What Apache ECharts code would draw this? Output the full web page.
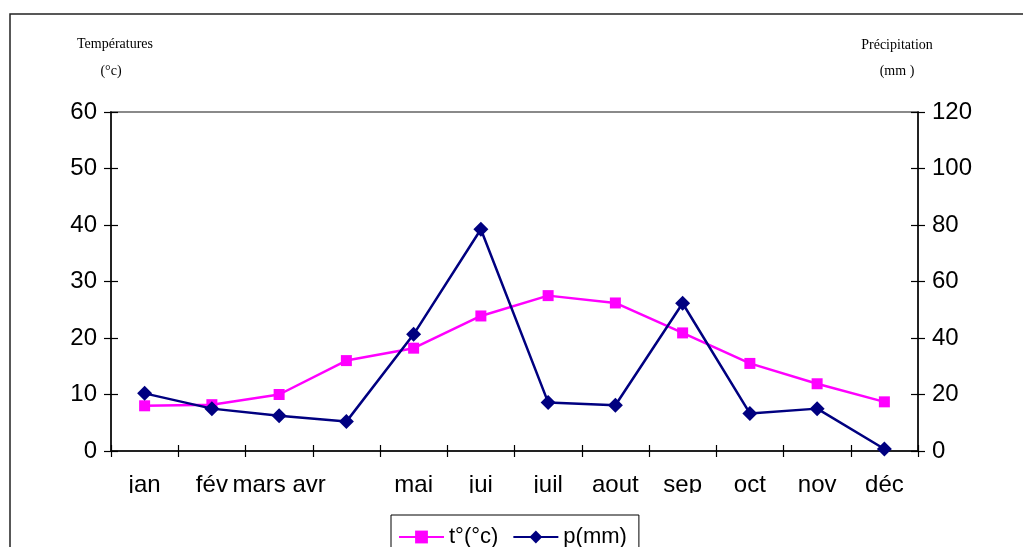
<!DOCTYPE html>
<html>
<head>
<meta charset="utf-8">
<style>
  html, body { margin: 0; padding: 0; background: #ffffff; }
  #chart { width: 1023px; height: 547px; }
</style>
<script src="https://cdn.jsdelivr.net/npm/echarts@6/dist/echarts.min.js"></script>
</head>
<body>
<div id="chart"></div>
<script>
// Monthly climate data
const months = ['jan', 'fév', 'mars avr', '', 'mai', 'jui', 'juil', 'aout', 'sep', 'oct', 'nov', 'déc'];
const temperature = [8, 8.2, 10, 16, 18.2, 23.9, 27.5, 26.2, 20.9, 15.5, 11.9, 8.7];   // °C
const precipitation = [20.4, 15, 12.5, 10.4, 41.3, 78.5, 17.2, 16.2, 52.3, 13.3, 15, 0.7]; // mm
const tempTicks = { min: 0, max: 60, interval: 10 };
const precipTicks = { min: 0, max: 120, interval: 20 };

const FONT = '"Liberation Sans", Arial, sans-serif';
const SERIF = '"Liberation Serif", "Times New Roman", serif';
const AXIS_LINE = { show: true, lineStyle: { color: '#000', width: 1.5 } };

const chart = echarts.init(document.getElementById('chart'), null, { renderer: 'canvas' });

// Each axis is doubled so the ticks cross the axis line (one copy outward, one inward).
function valueAxis(ticks, position, inner) {
  return {
    type: 'value',
    position: position,
    min: ticks.min, max: ticks.max, interval: ticks.interval,
    axisLine: inner ? { show: false } : AXIS_LINE,
    axisTick: { show: true, inside: inner, length: 7, lineStyle: { color: '#000', width: 1.2 } },
    axisLabel: inner ? { show: false } : { show: true, color: '#000', fontSize: 24, fontFamily: FONT, margin: 14 },
    splitLine: { show: false }
  };
}
function categoryAxis(inner) {
  return {
    type: 'category',
    position: 'bottom',
    data: months,
    boundaryGap: true,
    axisLine: inner ? { show: false } : AXIS_LINE,
    axisTick: { show: true, inside: inner, length: 6, interval: 0, lineStyle: { color: '#000', width: 1.2 } },
    axisLabel: inner ? { show: false } : { show: true, interval: 0, color: '#000', fontSize: 24, fontFamily: FONT, margin: 22 },
    splitLine: { show: false }
  };
}

chart.setOption({
  animation: false,
  backgroundColor: '#ffffff',
  grid: {
    left: 111, right: 105, top: 112, bottom: 96,
    show: true, borderColor: '#8a8a8a', borderWidth: 2, backgroundColor: 'transparent'
  },
  xAxis: [categoryAxis(false), categoryAxis(true)],
  yAxis: [
    valueAxis(tempTicks, 'left', false),
    valueAxis(precipTicks, 'right', false),
    valueAxis(tempTicks, 'left', true),
    valueAxis(precipTicks, 'right', true)
  ],
  legend: {
    left: 391, top: 515,
    orient: 'horizontal',
    borderColor: '#000', borderWidth: 1,
    padding: [11, 12, 12, 7],
    itemGap: 14, itemWidth: 45, itemHeight: 16,
    textStyle: { color: '#000', fontSize: 22, fontFamily: FONT },
    data: ['t°(°c)', 'p(mm)']
  },
  series: [
    {
      name: 't°(°c)', type: 'line', xAxisIndex: 0, yAxisIndex: 0,
      data: temperature,
      symbol: 'rect', symbolSize: 11,
      itemStyle: { color: '#ff00ff' },
      lineStyle: { color: '#ff00ff', width: 2.5 },
      z: 3
    },
    {
      name: 'p(mm)', type: 'line', xAxisIndex: 0, yAxisIndex: 1,
      data: precipitation,
      symbol: 'diamond', symbolSize: 15,
      itemStyle: { color: '#000080' },
      lineStyle: { color: '#000080', width: 2.5 },
      z: 4
    }
  ],
  graphic: [
    // outer frame of the figure
    { type: 'rect', shape: { x: 10, y: 14, width: 1100, height: 600 },
      style: { fill: 'none', stroke: '#222', lineWidth: 1.5 }, silent: true, z: 0 },
    // the month labels are cut at their baseline
    { type: 'rect', shape: { x: 105, y: 493, width: 820, height: 20 },
      style: { fill: '#ffffff' }, silent: true, z: 100 },
    // axis titles
    { type: 'text', x: 115, y: 44, z: 10,
      style: { text: 'Températures', fill: '#000', font: '14px ' + SERIF, textAlign: 'center', textVerticalAlign: 'middle' } },
    { type: 'text', x: 111, y: 71, z: 10,
      style: { text: '(°c)', fill: '#000', font: '14px ' + SERIF, textAlign: 'center', textVerticalAlign: 'middle' } },
    { type: 'text', x: 897, y: 45, z: 10,
      style: { text: 'Précipitation', fill: '#000', font: '14px ' + SERIF, textAlign: 'center', textVerticalAlign: 'middle' } },
    { type: 'text', x: 897, y: 71, z: 10,
      style: { text: '(mm )', fill: '#000', font: '14px ' + SERIF, textAlign: 'center', textVerticalAlign: 'middle' } }
  ]
});
</script>
</body>
</html>
